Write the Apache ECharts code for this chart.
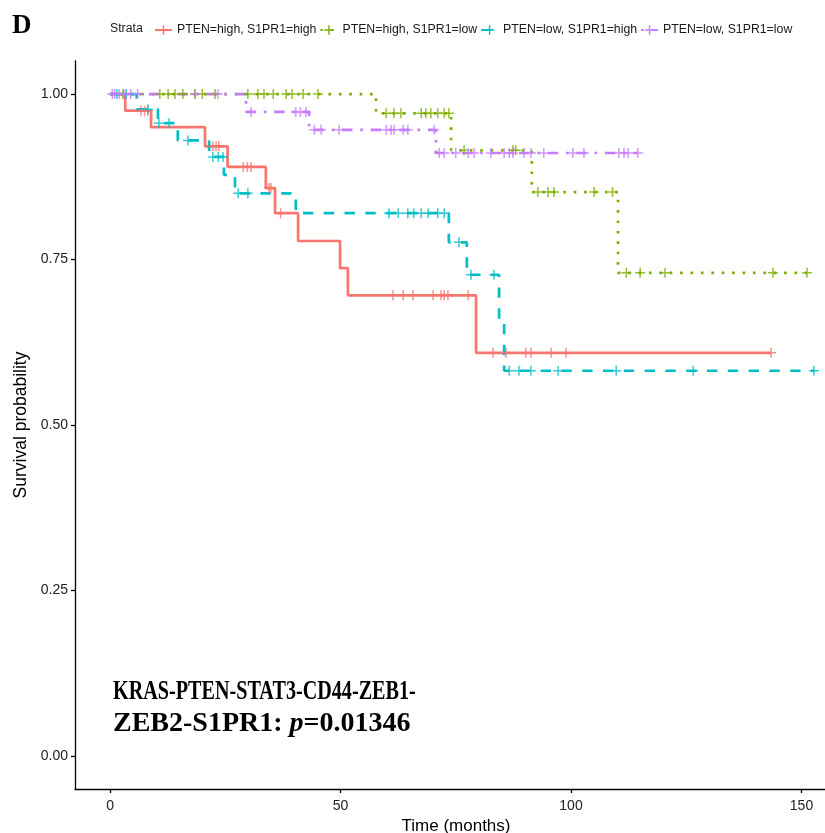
<!DOCTYPE html>
<html><head><meta charset="utf-8">
<script src="https://cdn.jsdelivr.net/npm/echarts@6/dist/echarts.min.js"></script>
<style>html,body{margin:0;padding:0;background:#fff}#c{width:825px;height:833px}</style>
</head><body><div id="c"></div>
<script>
// ---- data ----
const strataNames = ['PTEN=high, S1PR1=high', 'PTEN=high, S1PR1=low', 'PTEN=low, S1PR1=high', 'PTEN=low, S1PR1=low'];

const redTimes = [0, 3.3, 8.9, 20.6, 25.5, 33.8, 35.8, 40.8, 49.9, 51.6, 79.4, 143.4];
const redSurv  = [1, 0.975, 0.950, 0.921, 0.890, 0.858, 0.820, 0.778, 0.737, 0.696, 0.609, 0.609];
const redCensor = [6.7, 7.5, 8.2, 22.3, 23.0, 23.6, 28.9, 29.8, 30.6, 34.5, 34.9, 37.0, 61.4, 63.6, 65.7, 70.1, 71.8, 72.5, 73.3, 77.7, 83.1, 85.9, 90.2, 91.3, 95.7, 98.9, 143.4];

const greenTimes = [0, 57.7, 74.0, 91.5, 110.2, 151.2];
const greenSurv  = [1, 0.971, 0.915, 0.852, 0.730, 0.730];
const greenCensor = [2.8, 10.8, 12.6, 14.1, 15.8, 18.4, 20.0, 22.8, 29.9, 32.1, 33.4, 35.4, 38.2, 39.5, 41.9, 45.1, 59.9, 61.6, 63.1, 67.5, 68.5, 69.6, 71.1, 72.5, 73.5, 76.8, 87.4, 88.0, 92.8, 95.0, 96.3, 105.0, 109.0, 112.0, 115.0, 120.4, 143.8, 151.2];

const cyanTimes = [0, 5.8, 10.4, 14.7, 21.5, 24.7, 27.1, 40.3, 73.5, 77.4, 84.4, 85.5, 152.7];
const cyanSurv  = [1, 0.977, 0.956, 0.930, 0.905, 0.878, 0.850, 0.820, 0.776, 0.727, 0.655, 0.582, 0.582];
const cyanCensor = [1.5, 3.5, 8.2, 10.6, 12.8, 16.9, 22.3, 23.5, 24.5, 27.8, 29.9, 60.5, 62.5, 64.6, 65.9, 67.5, 69.0, 71.1, 72.5, 75.7, 78.3, 83.3, 86.6, 88.7, 91.3, 97.2, 109.8, 126.5, 152.7];

const purpleTimes = [0, 29.5, 43.2, 70.7, 114.5];
const purpleSurv  = [1, 0.973, 0.946, 0.911, 0.911];
const purpleCensor = [0.5, 1.0, 2.0, 3.0, 4.5, 6.0, 18.5, 23.4, 30.6, 40.3, 41.3, 42.5, 44.3, 45.8, 49.7, 59.9, 61.0, 61.6, 63.6, 64.6, 70.3, 71.4, 72.5, 75.0, 77.7, 79.0, 82.6, 85.5, 86.6, 87.4, 89.8, 91.3, 94.1, 100.4, 102.8, 110.4, 111.5, 112.4, 114.5];

const xTicks = [0, 50, 100, 150];
const yTicks = [0, 0.25, 0.5, 0.75, 1];

// ---- styling ----
const colors = ['#F8766D', '#7CAE00', '#00BFC4', '#C77CFF'];
const dashes = ['solid', [2.6, 7.8], [10.4, 10.4], [2.6, 7.8, 10.4, 7.8]];
const PLUS = 'path://M8.5,0H11.5V8.5H20V11.5H11.5V20H8.5V11.5H0V8.5H8.5Z';

function stepData(T, S) { return T.map((t, i) => [t, S[i]]); }
function censorData(T, S, C) {
  return C.map(c => { let v = S[0]; for (let i = 0; i < T.length; i++) { if (T[i] <= c) v = S[i]; } return [c, v]; });
}

const groups = [
  [redTimes, redSurv, redCensor],
  [greenTimes, greenSurv, greenCensor],
  [cyanTimes, cyanSurv, cyanCensor],
  [purpleTimes, purpleSurv, purpleCensor]
];

const series = [];
groups.forEach((g, k) => {
  series.push({
    type: 'line', name: strataNames[k], step: 'end', showSymbol: false,
    symbol: PLUS, symbolSize: 10, color: colors[k], silent: true, z: 2 + k,
    lineStyle: { width: 2.7, type: dashes[k], cap: 'butt', color: colors[k] },
    itemStyle: { color: colors[k] },
    data: stepData(g[0], g[1])
  });
});
groups.forEach((g, k) => {
  series.push({
    type: 'scatter', name: strataNames[k], symbol: PLUS, symbolSize: 10,
    itemStyle: { color: colors[k] }, silent: true, z: 10 + k,
    data: censorData(g[0], g[1], g[2])
  });
});

const chart = echarts.init(document.getElementById('c'), null, { renderer: 'canvas' });
const axisFont = '"Liberation Sans", Arial, sans-serif';
const serifBold = 'bold 28px "Liberation Serif", "Times New Roman", serif';
chart.setOption({
  animation: false,
  backgroundColor: '#fff',
  grid: { left: 75, right: 0, top: 61, bottom: 44, containLabel: false, outerBoundsMode: 'none' },
  legend: {
    left: 149, top: 19, itemWidth: 17, itemHeight: 12, itemGap: 3,
    data: strataNames,
    textStyle: { fontFamily: axisFont, fontSize: 12.3, color: '#1a1a1a' },
    selectedMode: false
  },
  xAxis: {
    type: 'value', min: -7.6, max: 155.1,
    name: 'Time (months)', nameLocation: 'middle', nameGap: 24,
    nameTextStyle: { fontFamily: axisFont, fontSize: 17, color: '#000', padding: [0, 0, 0, 12] },
    axisLine: { show: true, onZero: false, lineStyle: { color: '#000', width: 1.3 } },
    axisTick: { show: true, length: 4, customValues: xTicks, lineStyle: { color: '#000', width: 1.3 } },
    axisLabel: { customValues: xTicks, margin: 10, fontFamily: axisFont, fontSize: 14, color: '#222' },
    splitLine: { show: false }
  },
  yAxis: {
    type: 'value', min: -0.05, max: 1.05,
    name: 'Survival probability', nameLocation: 'middle', nameGap: 38,
    nameTextStyle: { fontFamily: axisFont, fontSize: 17.5, color: '#000' },
    axisLine: { show: true, onZero: false, lineStyle: { color: '#000', width: 1.3 } },
    axisTick: { show: true, length: 4, customValues: yTicks, lineStyle: { color: '#000', width: 1.3 } },
    axisLabel: { customValues: yTicks, margin: 7, fontFamily: axisFont, fontSize: 14, color: '#222',
      formatter: v => v.toFixed(2) },
    splitLine: { show: false }
  },
  graphic: [
    { type: 'text', left: 12, top: 13, style: { text: 'D', font: 'bold 27px "Liberation Serif", "Times New Roman", serif', fill: '#000' } },
    { type: 'text', x: 110, y: 29, style: { text: 'Strata', font: '12.3px ' + axisFont, fill: '#1a1a1a', verticalAlign: 'middle' } },
    { type: 'text', x: 113, y: 692, scaleX: 0.72, style: { text: 'KRAS-PTEN-STAT3-CD44-ZEB1-', font: serifBold, fill: '#000', verticalAlign: 'middle' } },
    { type: 'text', x: 113, y: 724, scaleX: 1.0, style: {
        text: 'ZEB2-S1PR1: {i|p}=0.01346',
        font: serifBold, fill: '#000', verticalAlign: 'middle',
        rich: { i: { fontStyle: 'italic', fontWeight: 'bold', fontSize: 28, fontFamily: '"Liberation Serif", serif', fill: '#000' } }
      } }
  ],
  series: series
});
</script>
</body></html>
